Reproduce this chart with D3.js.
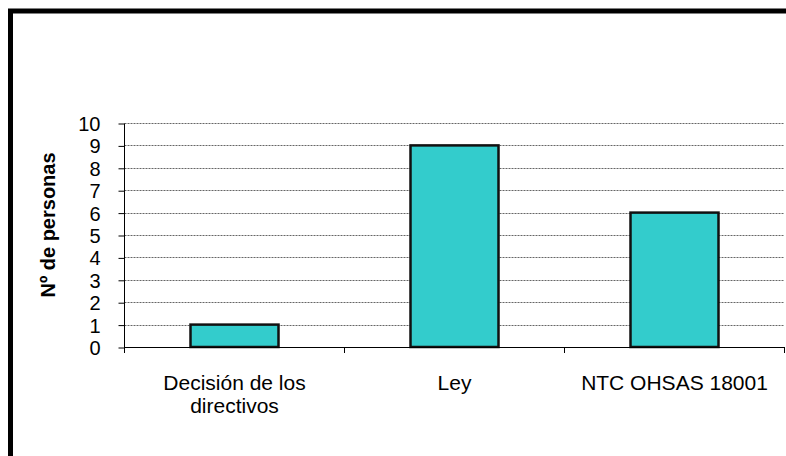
<!DOCTYPE html>
<html><head><meta charset="utf-8">
<script src="https://cdn.jsdelivr.net/npm/d3@7"></script>
<style>body{margin:0;background:#fff}svg{display:block}</style>
</head><body>
<script>
const categories = [["Decisión de los","directivos"],["Ley"],["NTC OHSAS 18001"]];
const values = [1, 9, 6];
const yTicks = [0,1,2,3,4,5,6,7,8,9,10];
const yTitle = "Nº de personas";

const W = 786, H = 456;
const FONT = "Liberation Sans, Arial, sans-serif";
const svg = d3.select("body").append("svg").attr("width", W).attr("height", H);
svg.append("rect").attr("width", W).attr("height", H).attr("fill", "#fff");

// frame
svg.append("path").attr("d", "M10.5,460 L10.5,11 L800,11").attr("fill","none").attr("stroke","#000").attr("stroke-width",5);

const x0 = 124.5, x1 = 784.5, yTop = 123, yBot = 347;
const x = d3.scaleBand().domain(d3.range(categories.length)).range([x0, x1]).paddingInner(0.6).paddingOuter(0.3);
const y = d3.scaleLinear().domain([0, 10]).range([yBot, yTop]);
const step = x.step();

// gridlines
svg.append("g").selectAll("line").data(yTicks.filter(d => d > 0)).join("line")
  .attr("x1", x0).attr("x2", x1)
  .attr("y1", d => Math.round(y(d)) + 0.5).attr("y2", d => Math.round(y(d)) + 0.5)
  .attr("stroke", "#666").attr("stroke-width", 1).attr("stroke-dasharray", "2,1");

// bars
svg.append("g").selectAll("rect").data(values).join("rect")
  .attr("x", (d, i) => x(i)).attr("width", x.bandwidth())
  .attr("y", d => y(d)).attr("height", d => y(0) - y(d))
  .attr("fill", "#33CCCC").attr("stroke", "#111").attr("stroke-width", 2.5);

// y axis
const yAxis = d3.axisLeft(y).tickValues(yTicks).tickSize(6).tickPadding(4).tickFormat(d3.format("d"));
const gy = svg.append("g").attr("transform", `translate(${x0},0.5)`).call(yAxis);
gy.select(".domain").attr("d", `M0,${yTop}V${yBot}`).attr("stroke", "#000");
gy.selectAll(".tick line").attr("stroke", "#000");
gy.selectAll("text").attr("font-family", FONT).attr("font-size", 20).attr("fill", "#000").attr("x", -24).attr("dy", "0.35em");

// x axis line and ticks at category boundaries
const gx = svg.append("g");
gx.append("line").attr("x1", x0).attr("x2", x1).attr("y1", yBot + 0.5).attr("y2", yBot + 0.5).attr("stroke", "#000");
const bounds = d3.range(categories.length + 1).map(i => x0 + i * step);
gx.selectAll("line.t").data(bounds).join("line").attr("class","t")
  .attr("x1", d => d).attr("x2", d => d).attr("y1", yBot).attr("y2", yBot + 6).attr("stroke", "#000");

// category labels
const lbl = svg.append("g").selectAll("text").data(categories).join("text")
  .attr("font-family", FONT).attr("font-size", 21).attr("fill", "#000")
  .attr("text-anchor", "middle");
lbl.each(function(lines, i) {
  const t = d3.select(this);
  const cx = x(i) + x.bandwidth() / 2;
  lines.forEach((s, j) => t.append("tspan").attr("x", cx).attr("y", 390 + j * 23).text(s));
});

// y title
svg.append("text").attr("transform", "translate(55,225) rotate(-90)")
  .attr("text-anchor", "middle").attr("font-family", FONT)
  .attr("font-size", 20).attr("font-weight", "bold").attr("fill", "#000").text(yTitle);
</script>
</body></html>
